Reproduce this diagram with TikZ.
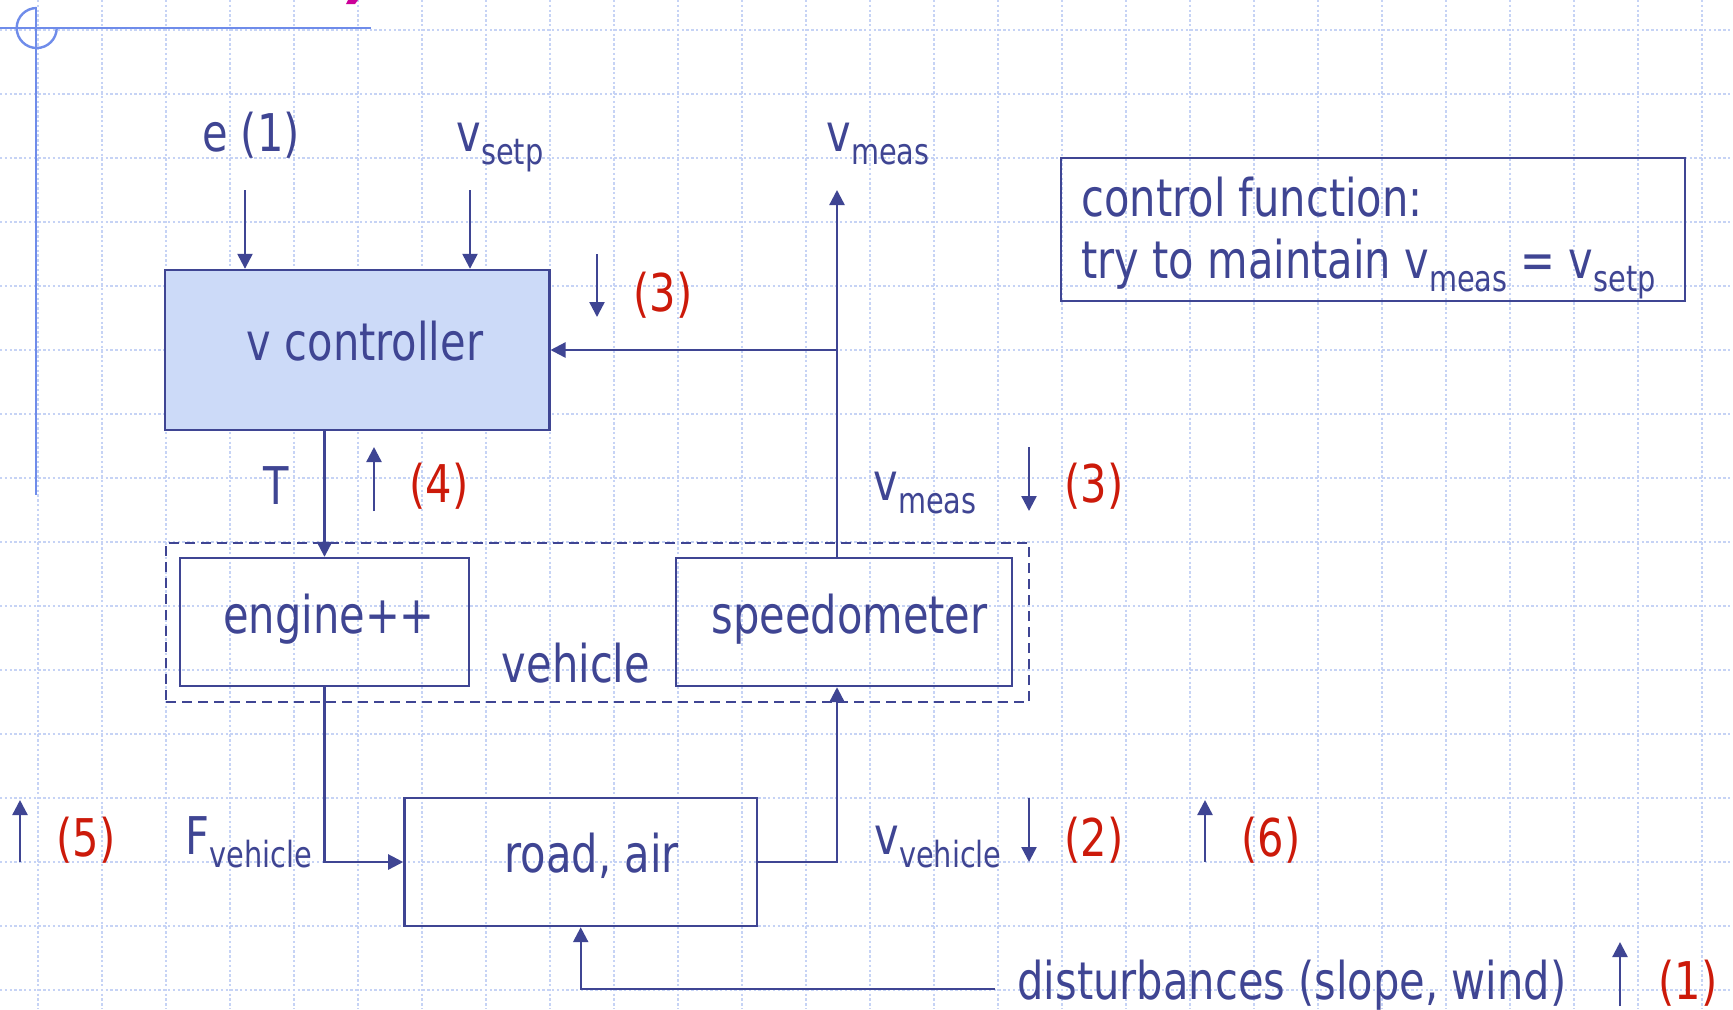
\documentclass[tikz,border=0pt]{standalone}
\usepackage{fontspec}
\setmainfont{DejaVu Sans}[FakeStretch=0.8]
\usetikzlibrary{arrows.meta}
\definecolor{ink}{HTML}{3F4593}
\definecolor{redn}{HTML}{CC1A0A}
\definecolor{ctrlfill}{HTML}{CCDAF8}
\definecolor{gridc}{HTML}{C6D3F5}
\definecolor{decor}{HTML}{6F8CEA}
\definecolor{pinkm}{HTML}{CC0099}
\newcommand\lsub[1]{\raisebox{-6.5pt}{\fontsize{18}{18}\selectfont #1}}
\newcommand\shifted[3]{\hspace*{#1}\raisebox{#2}{#3}}
\begin{document}
\begin{tikzpicture}[x=0.5pt,y=-0.5pt,
  txt/.style={inner sep=0pt, text=ink, font=\fontsize{26}{30}\selectfont},
  rtxt/.style={txt, text=redn},
  blk/.style={draw=ink, line width=1.2pt, txt},
  conn/.style={draw=ink, line width=1.2pt, -{Triangle[length=7.5pt,width=7.5pt]}},
  gridline/.style={gridc, line width=1pt, dash pattern=on 1.2pt off 1.2pt},
  decoline/.style={decor, line width=1.2pt},
]
\fill[white] (0,0) rectangle (1733,1009);
\useasboundingbox (0,0) rectangle (1733,1009);
% background grid
\foreach \gx in {37.7,101.7,...,1733} \draw[gridline] (\gx,0) -- (\gx,1009);
\foreach \gy in {30,94,...,1009} \draw[gridline] (0,\gy) -- (1733,\gy);
% decoration
\draw[decoline] (0,28) -- (371,28);
\draw[decoline] (36,7) -- (36,495);
\draw[decoline] (36.7,8) arc[start angle=90, end angle=360, radius=10pt];
\fill[pinkm] (348,0) -- (358,0) -- (355,4) -- (346,4) -- cycle;

% blocks
\node[blk, fill=ctrlfill, minimum width=192.3pt, minimum height=80pt] (ctrl) at (357,350) {\shifted{8pt}{9pt}{v controller}};
\node[draw=ink, line width=1.2pt, dash pattern=on 5pt off 3pt, minimum width=431.5pt, minimum height=79.5pt, inner sep=0pt] (veh) at (597.5,622.5) {};
\node[blk, minimum width=144.5pt, minimum height=64pt] (eng) at (324.5,622) {\shifted{4.4pt}{8.2pt}{engine++}};
\node[blk, minimum width=168pt, minimum height=64pt] (spd) at (844,622) {\shifted{5.5pt}{8.2pt}{speedometer}};
\node[blk, minimum width=176.3pt, minimum height=64pt] (road) at (580.7,862) {\shifted{11pt}{9.6pt}{road, air}};
\node[blk, minimum width=312pt, minimum height=71.5pt] (cf) at (1373,229.5) {};
\node[txt, anchor=base west] (cf1) at (1081,216) {control function:};
\node[txt, anchor=base west] (cf2) at (1081,278) {try to maintain v\lsub{meas} = v\lsub{setp}};

% labels
\node[txt, anchor=base] (elab) at (251,151) {e (1)};
\node[txt, anchor=base west] (vsetp) at (456,151) {v\lsub{setp}};
\node[txt, anchor=base west] (vmeas1) at (826,151) {v\lsub{meas}};
\node[txt, anchor=base west] (vmeas2) at (873,500) {v\lsub{meas}};
\node[txt, anchor=base west] (fveh) at (185,854) {F\lsub{vehicle}};
\node[txt, anchor=base west] (vveh) at (874,854) {v\lsub{vehicle}};
\node[txt] (Tlab) at (276,486) {T};
\node[txt] (vehlab) at (576,663) {vehicle};
\node[txt, anchor=base west] (dist) at (1017,999) {disturbances (slope, wind)};

\node[rtxt] (n3a) at (663,295) {(3)};
\node[rtxt] (n4) at (439,486) {(4)};
\node[rtxt] (n3b) at (1094,486) {(3)};
\node[rtxt] (n5) at (86,840) {(5)};
\node[rtxt] (n2) at (1094,840) {(2)};
\node[rtxt] (n6) at (1271,840) {(6)};
\node[rtxt, anchor=base] (n1) at (1688,999) {(1)};

% connectors
\coordinate (eTop) at (245,190);
\coordinate (sTop) at (470,190);
\coordinate (fbTop) at (837,190);
\coordinate (fbJ) at (837,350);
\coordinate (dStart) at (995,989);
\draw[conn] (eTop) -- (eTop |- ctrl.north);
\draw[conn] (sTop) -- (sTop |- ctrl.north);
\draw[conn] (spd.north -| fbTop) -- (fbTop);
\draw[conn] (fbJ) -- (ctrl.east);
\draw[conn] (eng.north |- ctrl.south) -- (eng.north);
\draw[conn] (eng.south) |- (road.west);
\draw[conn] (road.east) -| (spd.south -| fbTop);
\draw[conn] (dStart) -| (road.south);

% indicator arrows
\coordinate (i3aS) at (597,254); \coordinate (i3aE) at (597,317);
\coordinate (i4S) at (374,511); \coordinate (i4E) at (374,447);
\coordinate (i3bS) at (1029,447); \coordinate (i3bE) at (1029,511);
\coordinate (i2S) at (1029,798); \coordinate (i2E) at (1029,862);
\coordinate (i5S) at (20,862); \coordinate (i5E) at (20,800);
\coordinate (i6S) at (1205,862); \coordinate (i6E) at (1205,800);
\coordinate (i1S) at (1620,1006); \coordinate (i1E) at (1620,942);
\draw[conn] (i3aS) -- (i3aE);
\draw[conn] (i4S) -- (i4E);
\draw[conn] (i3bS) -- (i3bE);
\draw[conn] (i2S) -- (i2E);
\draw[conn] (i5S) -- (i5E);
\draw[conn] (i6S) -- (i6E);
\draw[conn] (i1S) -- (i1E);
\end{tikzpicture}
\end{document}
